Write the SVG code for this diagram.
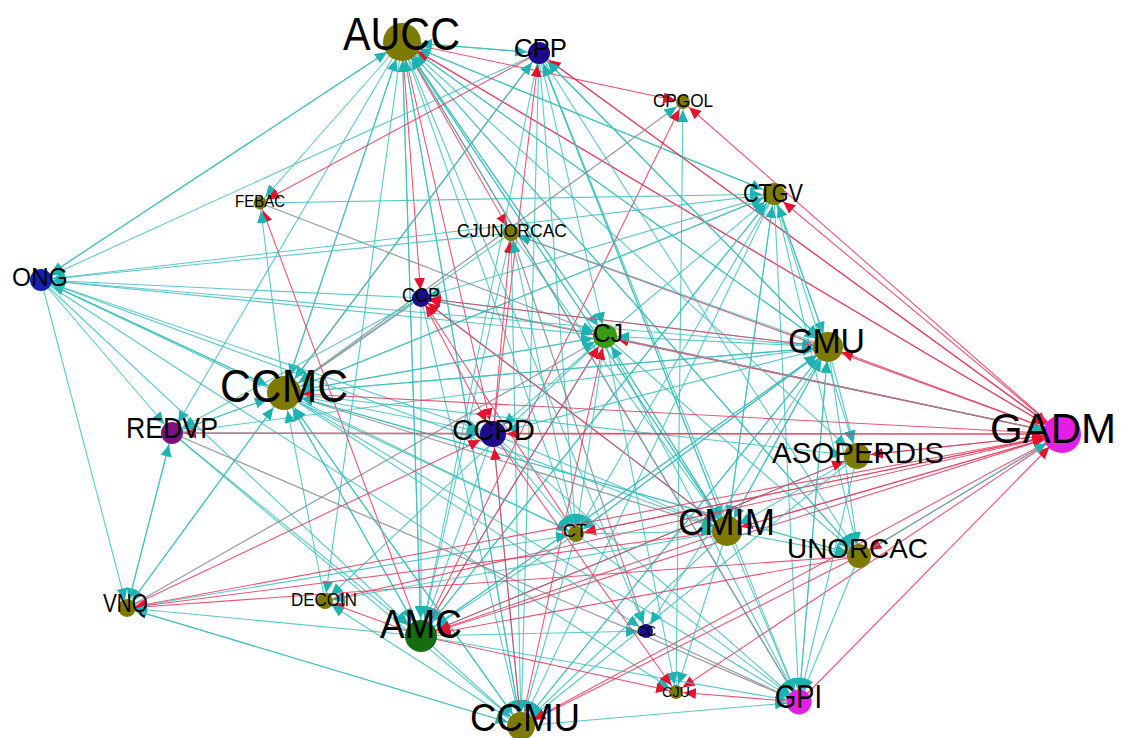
<svg xmlns="http://www.w3.org/2000/svg" width="1121" height="738" viewBox="0 0 1121 738">
<style>
.t{stroke:#3DBFBF;stroke-width:1.1;stroke-opacity:.85}
.r{stroke:#E8385C;stroke-width:1.1;stroke-opacity:.85}
.g{stroke:#8A8F95;stroke-width:1.3;stroke-opacity:.85}
text{font-family:"Liberation Sans",Arial,sans-serif;fill:#000}
.ol{fill:#7E7A00}.nv{fill:#1C0C8C}.bl{fill:#1420B8}.gr{fill:#3A9B12}.dg{fill:#146E10}.pu{fill:#7B1282}.mg{fill:#E41FE4}
</style>
<defs>
<marker id="tS" viewBox="0 -6 20 12" markerWidth="20" markerHeight="12" refX="20" refY="0" orient="auto" markerUnits="userSpaceOnUse"><path d="M0,-5.5L12,0L0,5.5z" fill="#1DB3B3"/></marker>
<marker id="tM" viewBox="0 -6 24 12" markerWidth="24" markerHeight="12" refX="24" refY="0" orient="auto" markerUnits="userSpaceOnUse"><path d="M0,-5.5L12,0L0,5.5z" fill="#1DB3B3"/></marker>
<marker id="tL" viewBox="0 -6 26 12" markerWidth="26" markerHeight="12" refX="26" refY="0" orient="auto" markerUnits="userSpaceOnUse"><path d="M0,-5.5L12,0L0,5.5z" fill="#1DB3B3"/></marker>
<marker id="tX" viewBox="0 -6 30 12" markerWidth="30" markerHeight="12" refX="30" refY="0" orient="auto" markerUnits="userSpaceOnUse"><path d="M0,-5.5L12,0L0,5.5z" fill="#1DB3B3"/></marker>
<marker id="rS" viewBox="0 -6 20 12" markerWidth="20" markerHeight="12" refX="20" refY="0" orient="auto" markerUnits="userSpaceOnUse"><path d="M0,-5.5L12,0L0,5.5z" fill="#E8112D"/></marker>
<marker id="rM" viewBox="0 -6 24 12" markerWidth="24" markerHeight="12" refX="24" refY="0" orient="auto" markerUnits="userSpaceOnUse"><path d="M0,-5.5L12,0L0,5.5z" fill="#E8112D"/></marker>
<marker id="rL" viewBox="0 -6 26 12" markerWidth="26" markerHeight="12" refX="26" refY="0" orient="auto" markerUnits="userSpaceOnUse"><path d="M0,-5.5L12,0L0,5.5z" fill="#E8112D"/></marker>
<marker id="rX" viewBox="0 -6 30 12" markerWidth="30" markerHeight="12" refX="30" refY="0" orient="auto" markerUnits="userSpaceOnUse"><path d="M0,-5.5L12,0L0,5.5z" fill="#E8112D"/></marker>
</defs>
<rect width="1121" height="738" fill="#fff"/>
<g id="connectors">
<line class="t" x1="402" y1="42" x2="41" y2="280" marker-end="url(#tM)"/>
<line class="t" x1="402" y1="42" x2="260" y2="203" marker-end="url(#tS)"/>
<line class="t" x1="402" y1="42" x2="284" y2="393" marker-end="url(#tX)"/>
<line class="t" x1="402" y1="42" x2="172" y2="433" marker-end="url(#tM)"/>
<line class="r" x1="402" y1="42" x2="421" y2="298" marker-end="url(#rS)"/>
<line class="r" x1="402" y1="42" x2="511" y2="233" marker-end="url(#rS)"/>
<line class="r" x1="402" y1="42" x2="493" y2="434" marker-end="url(#rL)"/>
<line class="t" x1="402" y1="42" x2="605" y2="336" marker-end="url(#tM)"/>
<line class="t" x1="402" y1="42" x2="828" y2="347" marker-end="url(#tL)"/>
<line class="t" x1="402" y1="42" x2="774" y2="194" marker-end="url(#tM)"/>
<line class="t" x1="402" y1="42" x2="539" y2="53" marker-end="url(#tM)"/>
<line class="r" x1="402" y1="42" x2="1062" y2="434" marker-end="url(#rX)"/>
<line class="t" x1="402" y1="42" x2="857" y2="456" marker-end="url(#tL)"/>
<line class="t" x1="402" y1="42" x2="727" y2="531" marker-end="url(#tL)"/>
<line class="t" x1="402" y1="42" x2="859" y2="556" marker-end="url(#tM)"/>
<line class="t" x1="402" y1="42" x2="576" y2="534" marker-end="url(#tS)"/>
<line class="t" x1="402" y1="42" x2="421" y2="636" marker-end="url(#tX)"/>
<line class="t" x1="402" y1="42" x2="521" y2="726" marker-end="url(#tL)"/>
<line class="t" x1="402" y1="42" x2="799" y2="702" marker-end="url(#tM)"/>
<line class="t" x1="402" y1="42" x2="646" y2="631" marker-end="url(#tS)"/>
<line class="t" x1="402" y1="42" x2="325" y2="601" marker-end="url(#tS)"/>
<line class="r" x1="402" y1="42" x2="683" y2="102" marker-end="url(#rS)"/>
<line class="t" x1="41" y1="280" x2="402" y2="42" marker-end="url(#tX)"/>
<line class="t" x1="284" y1="393" x2="402" y2="42" marker-end="url(#tX)"/>
<line class="t" x1="539" y1="53" x2="402" y2="42" marker-end="url(#tX)"/>
<line class="t" x1="828" y1="347" x2="402" y2="42" marker-end="url(#tX)"/>
<line class="t" x1="727" y1="531" x2="402" y2="42" marker-end="url(#tX)"/>
<line class="t" x1="421" y1="636" x2="402" y2="42" marker-end="url(#tX)"/>
<line class="t" x1="521" y1="726" x2="402" y2="42" marker-end="url(#tX)"/>
<line class="t" x1="605" y1="336" x2="402" y2="42" marker-end="url(#tX)"/>
<line class="r" x1="1062" y1="434" x2="402" y2="42" marker-end="url(#rX)"/>
<line class="t" x1="859" y1="556" x2="402" y2="42" marker-end="url(#tX)"/>
<line class="t" x1="774" y1="194" x2="402" y2="42" marker-end="url(#tX)"/>
<line class="g" x1="799" y1="702" x2="402" y2="42" marker-end="url(#tX)"/>
<line class="g" x1="539" y1="53" x2="284" y2="393" marker-end="url(#tX)"/>
<line class="t" x1="539" y1="53" x2="41" y2="280" marker-end="url(#tM)"/>
<line class="t" x1="539" y1="53" x2="605" y2="336" marker-end="url(#tM)"/>
<line class="t" x1="539" y1="53" x2="828" y2="347" marker-end="url(#tL)"/>
<line class="t" x1="539" y1="53" x2="727" y2="531" marker-end="url(#tL)"/>
<line class="t" x1="539" y1="53" x2="799" y2="702" marker-end="url(#tM)"/>
<line class="t" x1="539" y1="53" x2="859" y2="556" marker-end="url(#tM)"/>
<line class="t" x1="539" y1="53" x2="521" y2="726" marker-end="url(#tL)"/>
<line class="t" x1="539" y1="53" x2="421" y2="636" marker-end="url(#tX)"/>
<line class="t" x1="539" y1="53" x2="576" y2="534" marker-end="url(#tS)"/>
<line class="r" x1="539" y1="53" x2="1062" y2="434" marker-end="url(#rX)"/>
<line class="r" x1="1062" y1="434" x2="539" y2="53" marker-end="url(#rM)"/>
<line class="t" x1="284" y1="393" x2="539" y2="53" marker-end="url(#tM)"/>
<line class="t" x1="828" y1="347" x2="539" y2="53" marker-end="url(#tM)"/>
<line class="t" x1="727" y1="531" x2="539" y2="53" marker-end="url(#tM)"/>
<line class="r" x1="493" y1="434" x2="539" y2="53" marker-end="url(#rM)"/>
<line class="r" x1="1062" y1="434" x2="683" y2="102" marker-end="url(#rS)"/>
<line class="r" x1="421" y1="636" x2="683" y2="102" marker-end="url(#rS)"/>
<line class="g" x1="284" y1="393" x2="683" y2="102" marker-end="url(#tS)"/>
<line class="t" x1="676" y1="692" x2="683" y2="102" marker-end="url(#tS)"/>
<line class="r" x1="1062" y1="434" x2="774" y2="194" marker-end="url(#rM)"/>
<line class="t" x1="774" y1="194" x2="284" y2="393" marker-end="url(#tX)"/>
<line class="t" x1="774" y1="194" x2="421" y2="298" marker-end="url(#tS)"/>
<line class="t" x1="774" y1="194" x2="828" y2="347" marker-end="url(#tL)"/>
<line class="t" x1="774" y1="194" x2="727" y2="531" marker-end="url(#tL)"/>
<line class="t" x1="774" y1="194" x2="857" y2="456" marker-end="url(#tL)"/>
<line class="t" x1="774" y1="194" x2="859" y2="556" marker-end="url(#tM)"/>
<line class="t" x1="774" y1="194" x2="421" y2="636" marker-end="url(#tX)"/>
<line class="t" x1="774" y1="194" x2="576" y2="534" marker-end="url(#tS)"/>
<line class="t" x1="774" y1="194" x2="521" y2="726" marker-end="url(#tL)"/>
<line class="t" x1="774" y1="194" x2="799" y2="702" marker-end="url(#tM)"/>
<line class="t" x1="828" y1="347" x2="774" y2="194" marker-end="url(#tM)"/>
<line class="t" x1="727" y1="531" x2="774" y2="194" marker-end="url(#tM)"/>
<line class="t" x1="260" y1="203" x2="774" y2="194" marker-end="url(#tM)"/>
<line class="t" x1="284" y1="393" x2="774" y2="194" marker-end="url(#tM)"/>
<line class="t" x1="421" y1="636" x2="774" y2="194" marker-end="url(#tM)"/>
<line class="t" x1="605" y1="336" x2="774" y2="194" marker-end="url(#tM)"/>
<line class="r" x1="421" y1="636" x2="260" y2="203" marker-end="url(#rS)"/>
<line class="g" x1="260" y1="203" x2="605" y2="336" marker-end="url(#tM)"/>
<line class="t" x1="284" y1="393" x2="260" y2="203" marker-end="url(#tS)"/>
<line class="r" x1="539" y1="53" x2="260" y2="203" marker-end="url(#rS)"/>
<line class="r" x1="1062" y1="434" x2="511" y2="233" marker-end="url(#rS)"/>
<line class="t" x1="511" y1="233" x2="284" y2="393" marker-end="url(#tX)"/>
<line class="t" x1="511" y1="233" x2="421" y2="636" marker-end="url(#tX)"/>
<line class="t" x1="511" y1="233" x2="727" y2="531" marker-end="url(#tL)"/>
<line class="t" x1="511" y1="233" x2="521" y2="726" marker-end="url(#tL)"/>
<line class="g" x1="511" y1="233" x2="646" y2="631" marker-end="url(#tS)"/>
<line class="r" x1="493" y1="434" x2="511" y2="233" marker-end="url(#rS)"/>
<line class="t" x1="828" y1="347" x2="511" y2="233" marker-end="url(#tS)"/>
<line class="t" x1="576" y1="534" x2="511" y2="233" marker-end="url(#tS)"/>
<line class="t" x1="284" y1="393" x2="41" y2="280" marker-end="url(#tM)"/>
<line class="t" x1="421" y1="298" x2="41" y2="280" marker-end="url(#tM)"/>
<line class="t" x1="605" y1="336" x2="41" y2="280" marker-end="url(#tM)"/>
<line class="t" x1="828" y1="347" x2="41" y2="280" marker-end="url(#tM)"/>
<line class="t" x1="41" y1="280" x2="284" y2="393" marker-end="url(#tX)"/>
<line class="t" x1="41" y1="280" x2="493" y2="434" marker-end="url(#tL)"/>
<line class="t" x1="41" y1="280" x2="727" y2="531" marker-end="url(#tL)"/>
<line class="t" x1="41" y1="280" x2="172" y2="433" marker-end="url(#tM)"/>
<line class="t" x1="41" y1="280" x2="127" y2="608" marker-end="url(#tS)"/>
<line class="t" x1="41" y1="280" x2="421" y2="636" marker-end="url(#tX)"/>
<line class="t" x1="41" y1="280" x2="676" y2="692" marker-end="url(#tS)"/>
<line class="t" x1="774" y1="194" x2="41" y2="280" marker-end="url(#tM)"/>
<line class="t" x1="41" y1="280" x2="576" y2="534" marker-end="url(#tS)"/>
<line class="t" x1="511" y1="233" x2="41" y2="280" marker-end="url(#tM)"/>
<line class="r" x1="1062" y1="434" x2="421" y2="298" marker-end="url(#rS)"/>
<line class="g" x1="421" y1="298" x2="284" y2="393" marker-end="url(#tX)"/>
<line class="t" x1="421" y1="298" x2="605" y2="336" marker-end="url(#tM)"/>
<line class="t" x1="421" y1="298" x2="828" y2="347" marker-end="url(#tL)"/>
<line class="t" x1="421" y1="298" x2="727" y2="531" marker-end="url(#tL)"/>
<line class="t" x1="421" y1="298" x2="421" y2="636" marker-end="url(#tX)"/>
<line class="t" x1="421" y1="298" x2="521" y2="726" marker-end="url(#tL)"/>
<line class="t" x1="421" y1="298" x2="172" y2="433" marker-end="url(#tM)"/>
<line class="r" x1="828" y1="347" x2="421" y2="298" marker-end="url(#rS)"/>
<line class="r" x1="727" y1="531" x2="421" y2="298" marker-end="url(#rS)"/>
<line class="r" x1="576" y1="534" x2="421" y2="298" marker-end="url(#rS)"/>
<line class="r" x1="1062" y1="434" x2="605" y2="336" marker-end="url(#rM)"/>
<line class="t" x1="605" y1="336" x2="284" y2="393" marker-end="url(#tX)"/>
<line class="t" x1="605" y1="336" x2="493" y2="434" marker-end="url(#tL)"/>
<line class="t" x1="605" y1="336" x2="727" y2="531" marker-end="url(#tL)"/>
<line class="t" x1="605" y1="336" x2="576" y2="534" marker-end="url(#tS)"/>
<line class="t" x1="605" y1="336" x2="421" y2="636" marker-end="url(#tX)"/>
<line class="t" x1="605" y1="336" x2="799" y2="702" marker-end="url(#tM)"/>
<line class="t" x1="605" y1="336" x2="859" y2="556" marker-end="url(#tM)"/>
<line class="t" x1="828" y1="347" x2="605" y2="336" marker-end="url(#tM)"/>
<line class="t" x1="284" y1="393" x2="605" y2="336" marker-end="url(#tM)"/>
<line class="r" x1="421" y1="636" x2="605" y2="336" marker-end="url(#rM)"/>
<line class="r" x1="521" y1="726" x2="605" y2="336" marker-end="url(#rM)"/>
<line class="t" x1="727" y1="531" x2="605" y2="336" marker-end="url(#tM)"/>
<line class="g" x1="605" y1="336" x2="1062" y2="434" marker-end="url(#tX)"/>
<line class="r" x1="1062" y1="434" x2="828" y2="347" marker-end="url(#rL)"/>
<line class="t" x1="828" y1="347" x2="284" y2="393" marker-end="url(#tX)"/>
<line class="t" x1="828" y1="347" x2="493" y2="434" marker-end="url(#tL)"/>
<line class="t" x1="828" y1="347" x2="727" y2="531" marker-end="url(#tL)"/>
<line class="t" x1="828" y1="347" x2="421" y2="636" marker-end="url(#tX)"/>
<line class="t" x1="828" y1="347" x2="521" y2="726" marker-end="url(#tL)"/>
<line class="t" x1="828" y1="347" x2="576" y2="534" marker-end="url(#tS)"/>
<line class="t" x1="828" y1="347" x2="799" y2="702" marker-end="url(#tM)"/>
<line class="t" x1="828" y1="347" x2="859" y2="556" marker-end="url(#tM)"/>
<line class="t" x1="828" y1="347" x2="857" y2="456" marker-end="url(#tL)"/>
<line class="t" x1="284" y1="393" x2="828" y2="347" marker-end="url(#tL)"/>
<line class="t" x1="421" y1="636" x2="828" y2="347" marker-end="url(#tL)"/>
<line class="t" x1="727" y1="531" x2="828" y2="347" marker-end="url(#tL)"/>
<line class="t" x1="521" y1="726" x2="828" y2="347" marker-end="url(#tL)"/>
<line class="t" x1="799" y1="702" x2="828" y2="347" marker-end="url(#tL)"/>
<line class="t" x1="576" y1="534" x2="828" y2="347" marker-end="url(#tL)"/>
<line class="t" x1="172" y1="433" x2="828" y2="347" marker-end="url(#tL)"/>
<line class="r" x1="1062" y1="434" x2="284" y2="393" marker-end="url(#rX)"/>
<line class="t" x1="284" y1="393" x2="493" y2="434" marker-end="url(#tL)"/>
<line class="g" x1="284" y1="393" x2="727" y2="531" marker-end="url(#tL)"/>
<line class="t" x1="284" y1="393" x2="421" y2="636" marker-end="url(#tX)"/>
<line class="t" x1="284" y1="393" x2="521" y2="726" marker-end="url(#tL)"/>
<line class="t" x1="284" y1="393" x2="799" y2="702" marker-end="url(#tM)"/>
<line class="t" x1="284" y1="393" x2="172" y2="433" marker-end="url(#tM)"/>
<line class="t" x1="284" y1="393" x2="127" y2="608" marker-end="url(#tS)"/>
<line class="t" x1="284" y1="393" x2="859" y2="556" marker-end="url(#tM)"/>
<line class="t" x1="284" y1="393" x2="857" y2="456" marker-end="url(#tL)"/>
<line class="t" x1="284" y1="393" x2="576" y2="534" marker-end="url(#tS)"/>
<line class="t" x1="421" y1="636" x2="284" y2="393" marker-end="url(#tX)"/>
<line class="t" x1="521" y1="726" x2="284" y2="393" marker-end="url(#tX)"/>
<line class="t" x1="172" y1="433" x2="284" y2="393" marker-end="url(#tX)"/>
<line class="t" x1="127" y1="608" x2="284" y2="393" marker-end="url(#tX)"/>
<line class="t" x1="325" y1="601" x2="284" y2="393" marker-end="url(#tX)"/>
<line class="t" x1="859" y1="556" x2="284" y2="393" marker-end="url(#tX)"/>
<line class="r" x1="1062" y1="434" x2="172" y2="433" marker-end="url(#rM)"/>
<line class="g" x1="172" y1="433" x2="493" y2="434" marker-end="url(#tL)"/>
<line class="t" x1="172" y1="433" x2="127" y2="608" marker-end="url(#tS)"/>
<line class="t" x1="172" y1="433" x2="421" y2="636" marker-end="url(#tX)"/>
<line class="t" x1="172" y1="433" x2="521" y2="726" marker-end="url(#tL)"/>
<line class="g" x1="172" y1="433" x2="799" y2="702" marker-end="url(#tM)"/>
<line class="t" x1="127" y1="608" x2="172" y2="433" marker-end="url(#tM)"/>
<line class="r" x1="1062" y1="434" x2="493" y2="434" marker-end="url(#rL)"/>
<line class="t" x1="493" y1="434" x2="421" y2="636" marker-end="url(#tX)"/>
<line class="t" x1="493" y1="434" x2="521" y2="726" marker-end="url(#tL)"/>
<line class="t" x1="493" y1="434" x2="727" y2="531" marker-end="url(#tL)"/>
<line class="t" x1="493" y1="434" x2="799" y2="702" marker-end="url(#tM)"/>
<line class="t" x1="493" y1="434" x2="576" y2="534" marker-end="url(#tS)"/>
<line class="r" x1="421" y1="298" x2="493" y2="434" marker-end="url(#rL)"/>
<line class="r" x1="127" y1="608" x2="493" y2="434" marker-end="url(#rL)"/>
<line class="r" x1="521" y1="726" x2="493" y2="434" marker-end="url(#rL)"/>
<line class="r" x1="1062" y1="434" x2="857" y2="456" marker-end="url(#rL)"/>
<line class="r" x1="1062" y1="434" x2="727" y2="531" marker-end="url(#rL)"/>
<line class="r" x1="1062" y1="434" x2="859" y2="556" marker-end="url(#rM)"/>
<line class="r" x1="1062" y1="434" x2="576" y2="534" marker-end="url(#rS)"/>
<line class="r" x1="1062" y1="434" x2="421" y2="636" marker-end="url(#rX)"/>
<line class="r" x1="1062" y1="434" x2="325" y2="601" marker-end="url(#rS)"/>
<line class="r" x1="1062" y1="434" x2="127" y2="608" marker-end="url(#rS)"/>
<line class="r" x1="1062" y1="434" x2="676" y2="692" marker-end="url(#rS)"/>
<line class="r" x1="1062" y1="434" x2="521" y2="726" marker-end="url(#rL)"/>
<line class="r" x1="799" y1="702" x2="1062" y2="434" marker-end="url(#rX)"/>
<line class="r" x1="857" y1="456" x2="1062" y2="434" marker-end="url(#rX)"/>
<line class="r" x1="727" y1="531" x2="1062" y2="434" marker-end="url(#rX)"/>
<line class="t" x1="859" y1="556" x2="1062" y2="434" marker-end="url(#tX)"/>
<line class="r" x1="576" y1="534" x2="1062" y2="434" marker-end="url(#rX)"/>
<line class="t" x1="857" y1="456" x2="727" y2="531" marker-end="url(#tL)"/>
<line class="t" x1="857" y1="456" x2="421" y2="636" marker-end="url(#tX)"/>
<line class="t" x1="857" y1="456" x2="521" y2="726" marker-end="url(#tL)"/>
<line class="t" x1="857" y1="456" x2="799" y2="702" marker-end="url(#tM)"/>
<line class="r" x1="421" y1="636" x2="857" y2="456" marker-end="url(#rL)"/>
<line class="t" x1="576" y1="534" x2="727" y2="531" marker-end="url(#tL)"/>
<line class="t" x1="576" y1="534" x2="421" y2="636" marker-end="url(#tX)"/>
<line class="t" x1="576" y1="534" x2="521" y2="726" marker-end="url(#tL)"/>
<line class="t" x1="576" y1="534" x2="799" y2="702" marker-end="url(#tM)"/>
<line class="t" x1="127" y1="608" x2="576" y2="534" marker-end="url(#tS)"/>
<line class="r" x1="727" y1="531" x2="421" y2="636" marker-end="url(#rX)"/>
<line class="t" x1="727" y1="531" x2="521" y2="726" marker-end="url(#tL)"/>
<line class="t" x1="727" y1="531" x2="799" y2="702" marker-end="url(#tM)"/>
<line class="t" x1="727" y1="531" x2="859" y2="556" marker-end="url(#tM)"/>
<line class="r" x1="727" y1="531" x2="127" y2="608" marker-end="url(#rS)"/>
<line class="r" x1="859" y1="556" x2="421" y2="636" marker-end="url(#rX)"/>
<line class="r" x1="859" y1="556" x2="521" y2="726" marker-end="url(#rL)"/>
<line class="t" x1="859" y1="556" x2="799" y2="702" marker-end="url(#tM)"/>
<line class="r" x1="859" y1="556" x2="127" y2="608" marker-end="url(#rS)"/>
<line class="t" x1="421" y1="636" x2="127" y2="608" marker-end="url(#tS)"/>
<line class="t" x1="521" y1="726" x2="127" y2="608" marker-end="url(#tS)"/>
<line class="g" x1="127" y1="608" x2="605" y2="336" marker-end="url(#tM)"/>
<line class="r" x1="421" y1="636" x2="325" y2="601" marker-end="url(#rS)"/>
<line class="t" x1="605" y1="336" x2="325" y2="601" marker-end="url(#tS)"/>
<line class="t" x1="727" y1="531" x2="325" y2="601" marker-end="url(#tS)"/>
<line class="t" x1="521" y1="726" x2="325" y2="601" marker-end="url(#tS)"/>
<line class="t" x1="421" y1="636" x2="521" y2="726" marker-end="url(#tL)"/>
<line class="t" x1="421" y1="636" x2="799" y2="702" marker-end="url(#tM)"/>
<line class="r" x1="421" y1="636" x2="676" y2="692" marker-end="url(#rS)"/>
<line class="t" x1="421" y1="636" x2="646" y2="631" marker-end="url(#tS)"/>
<line class="t" x1="284" y1="393" x2="646" y2="631" marker-end="url(#tS)"/>
<line class="g" x1="646" y1="631" x2="799" y2="702" marker-end="url(#tM)"/>
<line class="t" x1="828" y1="347" x2="646" y2="631" marker-end="url(#tS)"/>
<line class="r" x1="493" y1="434" x2="676" y2="692" marker-end="url(#rS)"/>
<line class="t" x1="605" y1="336" x2="676" y2="692" marker-end="url(#tS)"/>
<line class="t" x1="727" y1="531" x2="676" y2="692" marker-end="url(#tS)"/>
<line class="t" x1="521" y1="726" x2="799" y2="702" marker-end="url(#tM)"/>
<line class="t" x1="127" y1="608" x2="521" y2="726" marker-end="url(#tL)"/>
<line class="r" x1="799" y1="702" x2="676" y2="692" marker-end="url(#rS)"/>
</g>
<g id="n-AUCC"><circle cx="402" cy="42" r="19" class="ol"/><text x="343" y="50" font-size="46" textLength="117" lengthAdjust="spacingAndGlyphs">AUCC</text></g>
<g id="n-CPP"><circle cx="539" cy="53" r="11" class="nv"/><text x="514" y="57" font-size="26" textLength="53" lengthAdjust="spacingAndGlyphs">CPP</text></g>
<g id="n-CPGOL"><circle cx="683" cy="102" r="7" class="ol"/><text x="653" y="107" font-size="19" textLength="60" lengthAdjust="spacingAndGlyphs">CPGOL</text></g>
<g id="n-CTGV"><circle cx="774" cy="194" r="11" class="ol"/><text x="743" y="202" font-size="25" textLength="60" lengthAdjust="spacingAndGlyphs">CTGV</text></g>
<g id="n-FEBAC"><circle cx="260" cy="203" r="6.5" class="ol"/><text x="235" y="207" font-size="17" textLength="50" lengthAdjust="spacingAndGlyphs">FEBAC</text></g>
<g id="n-CJUNORCAC"><circle cx="511" cy="233" r="8" class="ol"/><text x="457" y="237" font-size="19" textLength="110" lengthAdjust="spacingAndGlyphs">CJUNORCAC</text></g>
<g id="n-ONG"><circle cx="41" cy="280" r="11" class="bl"/><text x="12" y="286" font-size="26" textLength="56" lengthAdjust="spacingAndGlyphs">ONG</text></g>
<g id="n-CCP"><circle cx="421" cy="298" r="9" class="nv"/><text x="402" y="302" font-size="20" textLength="38" lengthAdjust="spacingAndGlyphs">CCP</text></g>
<g id="n-CJ"><circle cx="605" cy="336" r="12" class="gr"/><text x="593" y="342" font-size="26" textLength="30" lengthAdjust="spacingAndGlyphs">CJ</text></g>
<g id="n-CMU"><circle cx="828" cy="347" r="15" class="ol"/><text x="788" y="353" font-size="35" textLength="77" lengthAdjust="spacingAndGlyphs">CMU</text></g>
<g id="n-CCMC"><circle cx="284" cy="393" r="17" class="ol"/><text x="220" y="402" font-size="47" textLength="128" lengthAdjust="spacingAndGlyphs">CCMC</text></g>
<g id="n-REDVP"><circle cx="172" cy="433" r="11" class="pu"/><text x="126" y="438" font-size="29" textLength="92" lengthAdjust="spacingAndGlyphs">REDVP</text></g>
<g id="n-CCPD"><circle cx="493" cy="434" r="13" class="nv"/><text x="452" y="440" font-size="29" textLength="83" lengthAdjust="spacingAndGlyphs">CCPD</text></g>
<g id="n-GADM"><circle cx="1062" cy="434" r="19" class="mg"/><text x="990" y="443" font-size="42">GADM</text></g>
<g id="n-ASOPERDIS"><circle cx="857" cy="456" r="13" class="ol"/><text x="772" y="463" font-size="30" textLength="172" lengthAdjust="spacingAndGlyphs">ASOPERDIS</text></g>
<g id="n-CT"><circle cx="576" cy="534" r="8" class="ol"/><text x="563" y="537" font-size="19" textLength="24" lengthAdjust="spacingAndGlyphs">CT</text></g>
<g id="n-CMIM"><circle cx="727" cy="531" r="15" class="ol"/><text x="678" y="535" font-size="37" textLength="97" lengthAdjust="spacingAndGlyphs">CMIM</text></g>
<g id="n-UNORCAC"><circle cx="859" cy="556" r="12" class="ol"/><text x="787" y="558" font-size="28" textLength="141" lengthAdjust="spacingAndGlyphs">UNORCAC</text></g>
<g id="n-VNQ"><circle cx="127" cy="608" r="9" class="ol"/><text x="103" y="612" font-size="25" textLength="45" lengthAdjust="spacingAndGlyphs">VNQ</text></g>
<g id="n-DECOIN"><circle cx="325" cy="601" r="8" class="ol"/><text x="291" y="606" font-size="19" textLength="66" lengthAdjust="spacingAndGlyphs">DECOIN</text></g>
<g id="n-AMC"><circle cx="421" cy="636" r="16" class="dg"/><text x="380" y="638" font-size="40" textLength="82" lengthAdjust="spacingAndGlyphs">AMC</text></g>
<g id="n-CC"><circle cx="646" cy="631" r="7" class="nv"/><text x="637" y="636" font-size="14" textLength="19" lengthAdjust="spacingAndGlyphs">CC</text></g>
<g id="n-CJU"><circle cx="676" cy="692" r="7" class="ol"/><text x="662" y="697" font-size="15" textLength="28" lengthAdjust="spacingAndGlyphs">CJU</text></g>
<g id="n-GPI"><circle cx="799" cy="702" r="12.5" class="mg"/><text x="775" y="708" font-size="33" textLength="47" lengthAdjust="spacingAndGlyphs">GPI</text></g>
<g id="n-CCMU"><circle cx="521" cy="726" r="14" class="ol"/><text x="470" y="731" font-size="38" textLength="110" lengthAdjust="spacingAndGlyphs">CCMU</text></g>
</svg>
